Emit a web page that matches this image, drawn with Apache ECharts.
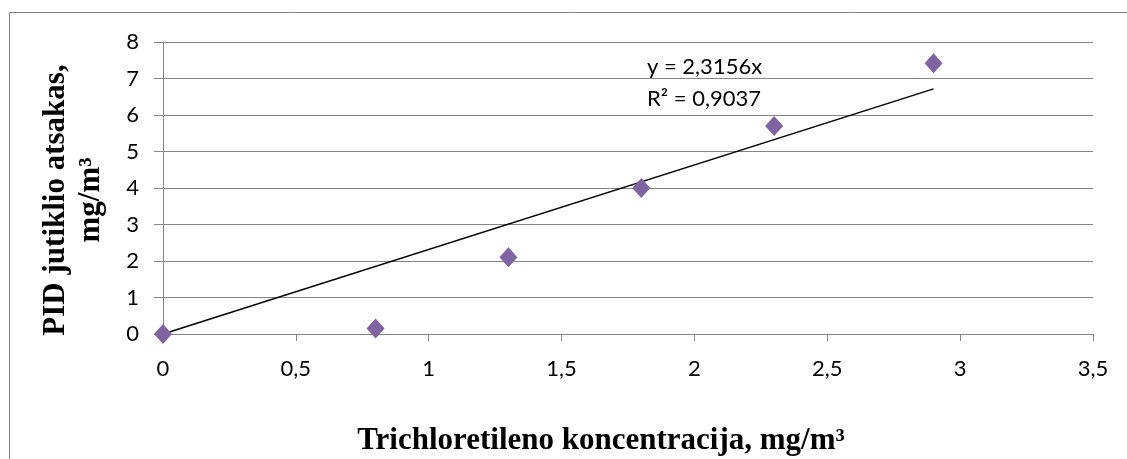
<!DOCTYPE html>
<html>
<head>
<meta charset="utf-8">
<script src="https://cdn.jsdelivr.net/npm/echarts@6/dist/echarts.min.js"></script>
<style>
html,body{margin:0;padding:0;background:#fff;}
#chart{width:1127px;height:459px;}
</style>
</head>
<body>
<div id="chart"></div>
<script>
// Data
const xValues = [0, 0.8, 1.3, 1.8, 2.3, 2.9];
const yValues = [0, 0.15, 2.1, 4.0, 5.7, 7.42];
const trendSlope = 2.3156;
const trendRange = [0, 2.9];
const equationText = ['y = 2,3156x', 'R² = 0,9037'];
const xTitle = 'Trichloretileno koncentracija, mg/m³';
const yTitle = ['PID jutiklio atsakas,', 'mg/m³'];

const points = xValues.map((x, i) => [x, yValues[i]]);
const trend = trendRange.map(x => [x, trendSlope * x]);

const chart = echarts.init(document.getElementById('chart'));
const grey = '#868686';
const tickFont = {fontFamily: 'Lato', fontSize: 22, color: '#000'};

chart.setOption({
  animation: false,
  backgroundColor: '#fff',
  grid: {left: 163, right: 34, top: 42, bottom: 125, containLabel: false},
  xAxis: {
    type: 'value', min: 0, max: 3.5, interval: 0.5,
    axisLine: {show: true, lineStyle: {color: grey, width: 1}},
    axisTick: {show: true, length: 7, lineStyle: {color: grey}},
    splitLine: {show: false},
    axisLabel: Object.assign({margin: 24, formatter: v => String(v).replace('.', ',')}, tickFont)
  },
  yAxis: {
    type: 'value', min: 0, max: 8, interval: 1,
    axisLine: {show: true, lineStyle: {color: grey, width: 1}},
    axisTick: {show: true, inside: false, length: 9, lineStyle: {color: grey}},
    splitLine: {show: true, lineStyle: {color: grey, width: 1}},
    axisLabel: Object.assign({margin: 24}, tickFont)
  },
  graphic: [
    {type: 'rect', silent: true, shape: {x: 9.5, y: 12.5, width: 1140, height: 470},
     style: {fill: 'none', stroke: '#868686', lineWidth: 1}},
    {type: 'text', x: 601, y: 441, style: {text: xTitle, font: 'bold 31px "Liberation Serif"', fill: '#000', textAlign: 'center', textVerticalAlign: 'middle'}},
    {type: 'text', x: 73, y: 200, rotation: Math.PI / 2,
     style: {text: yTitle.join('\n'), font: 'bold 31px "Liberation Serif"', lineHeight: 35, fill: '#000', textAlign: 'center', textVerticalAlign: 'middle'}},
    {type: 'text', left: 647, top: 51,
     style: {text: equationText.join('\n'), font: '22px Lato', lineHeight: 32, fill: '#000'}}
  ],
  series: [
    {
      type: 'line', data: trend, symbol: 'none', clip: false, z: 3,
      lineStyle: {color: '#000', width: 1.5}
    },
    {
      type: 'scatter', data: points, symbol: 'diamond', symbolSize: [18, 20], clip: false, z: 4,
      itemStyle: {color: '#8064A2', opacity: 1}
    }
  ]
});
</script>
</body>
</html>
